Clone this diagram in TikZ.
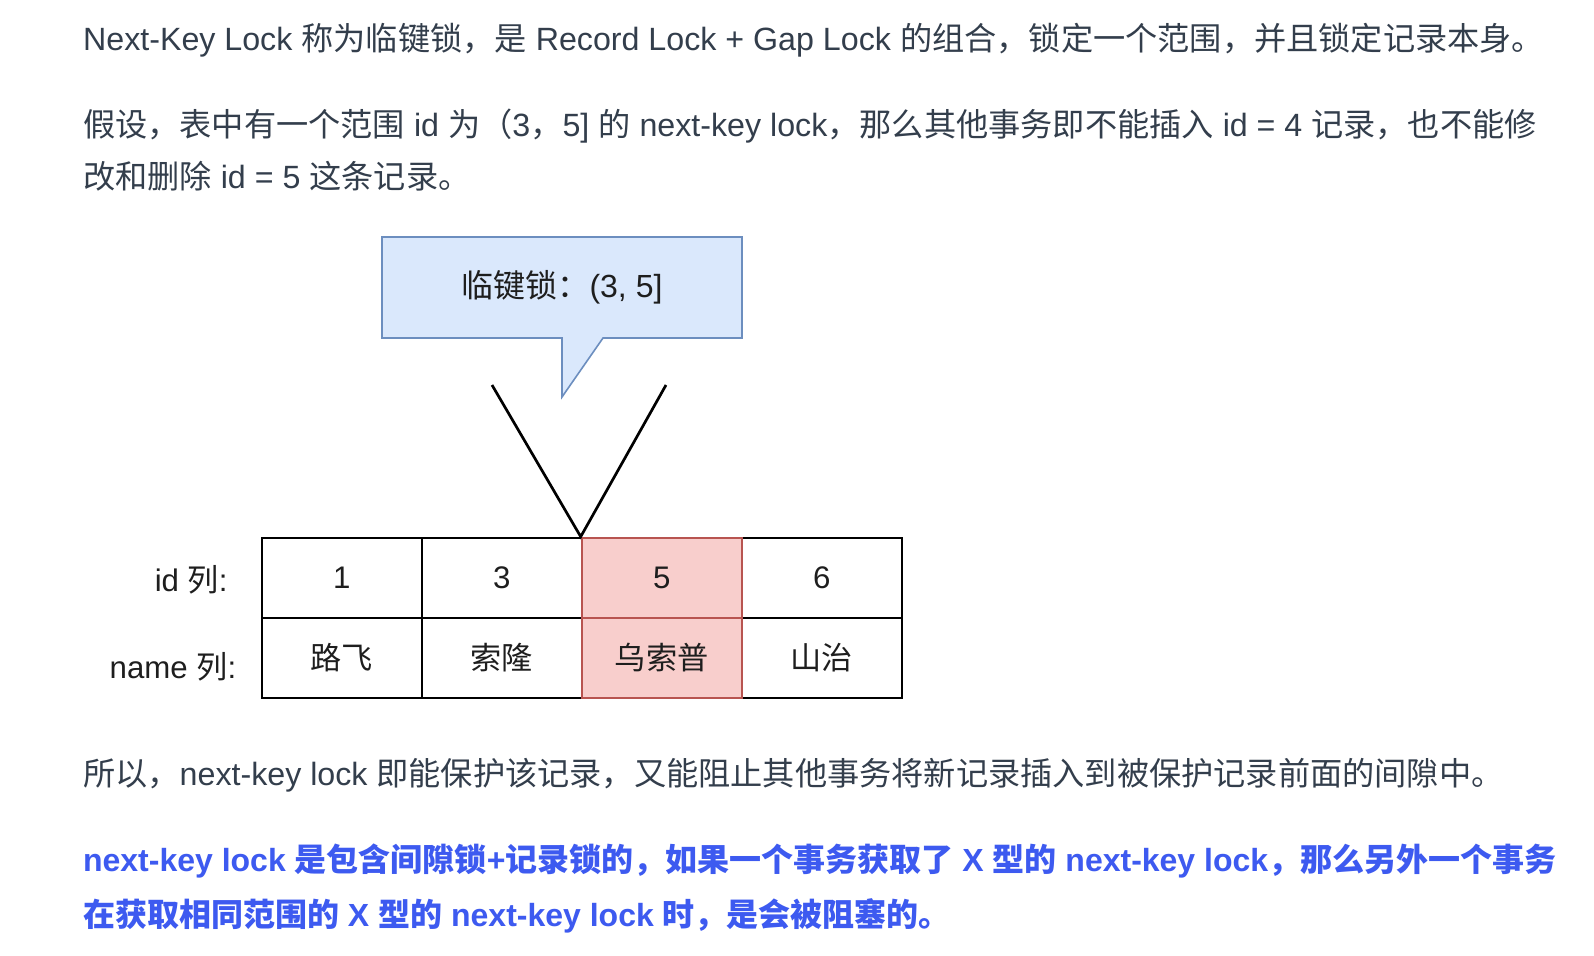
\documentclass[tikz,border=0pt]{standalone}
\usepackage{fontspec}
\setmainfont{Liberation Sans}
\newfontfamily\cjk{Noto Sans CJK SC}
\definecolor{bodytext}{RGB}{51,62,76}
\definecolor{bluetext}{RGB}{61,90,240}
\definecolor{calloutfill}{HTML}{DAE8FC}
\definecolor{calloutdraw}{HTML}{6C8EBF}
\definecolor{pinkfill}{HTML}{F8CECC}
\definecolor{pinkdraw}{HTML}{B85450}
\definecolor{celltext}{RGB}{30,30,30}
\begin{document}
\begin{tikzpicture}[x=0.5pt,y=-0.5pt,
  bodyline/.style={anchor=base west,inner sep=0pt,text=bodytext,font=\fontsize{16.1}{19}\selectfont},
  blueline/.style={anchor=base west,inner sep=0pt,text=bluetext,font=\fontsize{16}{19}\selectfont\bfseries},
  cell/.style={draw=black,line width=1pt,minimum width=80pt,minimum height=40pt,inner sep=0pt,text=celltext,font=\fontsize{15.6}{18}\selectfont},
  hotcell/.style={cell,fill=pinkfill,draw=pinkdraw},
  rowlabel/.style={anchor=east,inner sep=0pt,text=celltext,font=\fontsize{15.6}{18}\selectfont},
  vline/.style={line width=1.35pt,black}
]
\useasboundingbox[fill=white] (0,0) rectangle (1594,956);

% body text
\node[bodyline] (t1) at (82.7,50.5) {Next-Key Lock {\cjk 称为临键锁，是} Record Lock + Gap Lock {\cjk 的组合，锁定一个范围，并且锁定记录本身。}};
\node[bodyline] (t2) at (82.7,137) {{\cjk 假设，表中有一个范围} id {\cjk 为（}3{\cjk ，}5] {\cjk 的} next-key lock{\cjk ，那么其他事务即不能插入} id = 4 {\cjk 记录，也不能修}};
\node[bodyline] (t3) at (82.7,189) {{\cjk 改和删除} id = 5 {\cjk 这条记录。}};
\node[bodyline] (t4) at (82.7,785) {{\cjk 所以，}next-key lock {\cjk 即能保护该记录，又能阻止其他事务将新记录插入到被保护记录前面的间隙中。}};
\node[blueline] (t5) at (82.7,871) {next-key lock {\cjk 是包含间隙锁}+{\cjk 记录锁的，如果一个事务获取了} X {\cjk 型的} next-key lock{\cjk ，那么另外一个事务}};
\node[blueline] (t6) at (82.7,926) {{\cjk 在获取相同范围的} X {\cjk 型的} next-key lock {\cjk 时，是会被阻塞的。}};

% callout
\draw[fill=calloutfill,draw=calloutdraw,line width=0.8pt]
  (382,237) -- (742,237) -- (742,338) -- (603,338) -- (562,397) -- (562,338) -- (382,338) -- cycle;
\node[inner sep=0pt,text=celltext,font=\fontsize{16}{18}\selectfont] (callout) at (562,287) {{\cjk 临键锁：}(3, 5]};

% table
\node[cell] (a1) at (341.7,577.7) {1};
\node[cell] (a2) at (501.7,577.7) {3};
\node[cell] (a4) at (821.7,577.7) {6};
\node[cell] (b1) at (341.7,657.7) {\cjk 路飞};
\node[cell] (b2) at (501.7,657.7) {\cjk 索隆};
\node[cell] (b4) at (821.7,657.7) {\cjk 山治};
\node[hotcell] (a3) at (661.7,577.7) {5};
\node[hotcell] (b3) at (661.7,657.7) {\cjk 乌索普};

\node[rowlabel] (lid) at (228,580) {id {\cjk 列}:};
\node[rowlabel] (lname) at (236.7,666.7) {name {\cjk 列}:};

% V lines
\coordinate (vl) at (492,385);
\coordinate (vr) at (666,385);
\draw[vline,line join=miter] (vl) -- (a3.north west) -- (vr);
\end{tikzpicture}
\end{document}
